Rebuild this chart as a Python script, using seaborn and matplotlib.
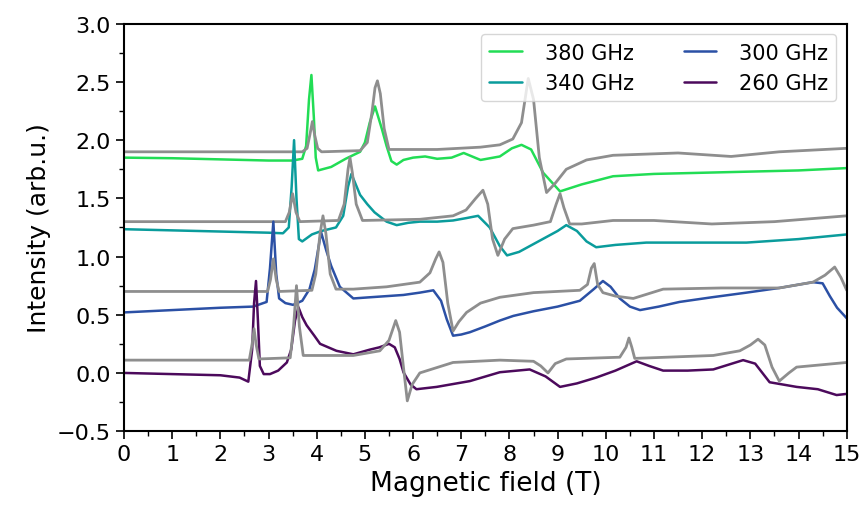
import matplotlib
matplotlib.use("Agg")
import matplotlib.pyplot as plt
import seaborn as sns
from matplotlib.ticker import MultipleLocator

# measured spectra (colored) and simulations (gray), offset per frequency
x_380 = [0, 1, 2, 3, 3.5, 3.7, 3.78, 3.84, 3.89, 3.94, 3.98, 4.03, 4.3, 4.6, 4.9, 5.0, 5.1, 5.21,
         5.35, 5.45, 5.55, 5.66, 5.8, 6.0, 6.25, 6.5, 6.8, 7.05, 7.4, 7.8, 8.05, 8.25, 8.45, 8.7,
         9.05, 9.5, 10.15, 11, 12, 13, 14, 15]
y_380 = [1.85, 1.845, 1.835, 1.825, 1.825, 1.84, 1.95, 2.35, 2.56, 2.2, 1.85, 1.74, 1.77, 1.84,
         1.90, 1.98, 2.15, 2.29, 2.1, 1.95, 1.82, 1.79, 1.83, 1.85, 1.86, 1.84, 1.85, 1.89, 1.83,
         1.86, 1.93, 1.96, 1.92, 1.72, 1.56, 1.62, 1.69, 1.71, 1.72, 1.73, 1.74, 1.76]
xs_380 = [0, 3.7, 3.8, 3.86, 3.91, 3.96, 4.02, 4.1, 4.9, 5.05, 5.15, 5.21, 5.26, 5.32, 5.4, 5.5,
          6.5, 7.4, 7.8, 8.07, 8.25, 8.39, 8.5, 8.62, 8.77, 8.95, 9.18, 9.6, 10.15, 11.5, 12.6,
          13.6, 15]
ys_380 = [1.90, 1.90, 1.93, 2.05, 2.16, 2.04, 1.93, 1.90, 1.91, 1.98, 2.25, 2.45, 2.51, 2.4, 2.1,
          1.92, 1.92, 1.94, 1.96, 2.01, 2.15, 2.53, 2.35, 1.85, 1.55, 1.63, 1.75, 1.83, 1.87,
          1.89, 1.86, 1.90, 1.93]

x_340 = [0, 1, 2, 3, 3.3, 3.42, 3.48, 3.53, 3.58, 3.63, 3.7, 3.9, 4.1, 4.4, 4.55, 4.65, 4.72, 4.8,
         4.9, 5.05, 5.2, 5.45, 5.66, 5.9, 6.14, 6.5, 6.83, 7.1, 7.35, 7.59, 7.8, 7.95, 8.2, 8.6,
         9.0, 9.18, 9.4, 9.6, 9.8, 10.2, 10.84, 12, 12.92, 14, 15]
y_340 = [1.235, 1.225, 1.215, 1.205, 1.20, 1.25, 1.6, 2.0, 1.5, 1.15, 1.13, 1.19, 1.22, 1.25, 1.35,
         1.6, 1.71, 1.63, 1.53, 1.45, 1.38, 1.30, 1.27, 1.29, 1.30, 1.30, 1.31, 1.33, 1.35, 1.25,
         1.09, 1.01, 1.04, 1.13, 1.22, 1.27, 1.22, 1.13, 1.08, 1.10, 1.12, 1.12, 1.12, 1.15, 1.19]
xs_340 = [0, 3.35, 3.43, 3.5, 3.57, 3.65, 4.45, 4.57, 4.65, 4.69, 4.74, 4.82, 4.95, 6.14, 6.83,
          7.1, 7.3, 7.45, 7.55, 7.65, 7.76, 7.9, 8.07, 8.5, 8.85, 8.97, 9.05, 9.13, 9.25, 9.5,
          10.15, 11, 12.2, 13.5, 15]
ys_340 = [1.30, 1.30, 1.38, 1.54, 1.38, 1.30, 1.31, 1.45, 1.75, 1.85, 1.72, 1.45, 1.31, 1.32,
          1.35, 1.40, 1.50, 1.57, 1.45, 1.15, 1.01, 1.15, 1.24, 1.27, 1.30, 1.45, 1.54, 1.42,
          1.28, 1.28, 1.31, 1.31, 1.28, 1.30, 1.35]

x_300 = [0, 1, 2, 2.68, 2.96, 3.03, 3.10, 3.16, 3.22, 3.35, 3.51, 3.7, 3.85, 3.96, 4.09, 4.2, 4.3,
         4.48, 4.76, 5.1, 5.45, 5.8, 6.14, 6.42, 6.58, 6.70, 6.83, 7.0, 7.18, 7.5, 7.8, 8.08, 8.5,
         9.0, 9.46, 9.75, 9.94, 10.1, 10.29, 10.5, 10.71, 11.1, 11.53, 12.2, 12.92, 13.6, 14.3,
         14.5, 14.65, 14.8, 15]
y_300 = [0.52, 0.54, 0.56, 0.57, 0.61, 0.9, 1.30, 0.85, 0.64, 0.60, 0.585, 0.62, 0.72, 0.89, 1.21,
         1.05, 0.92, 0.74, 0.64, 0.65, 0.66, 0.67, 0.69, 0.71, 0.62, 0.46, 0.32, 0.33, 0.35, 0.40,
         0.45, 0.49, 0.53, 0.57, 0.62, 0.72, 0.79, 0.74, 0.64, 0.57, 0.54, 0.57, 0.61, 0.65, 0.69,
         0.73, 0.78, 0.77, 0.66, 0.56, 0.47]
xs_300 = [0, 2.98, 3.04, 3.10, 3.16, 3.22, 3.9, 3.98, 4.07, 4.13, 4.19, 4.28, 4.4, 4.76, 5.45,
          6.14, 6.35, 6.47, 6.54, 6.62, 6.72, 6.83, 6.95, 7.11, 7.4, 7.8, 8.5, 9.46, 9.62, 9.7,
          9.76, 9.83, 9.94, 10.2, 10.57, 11.19, 12.4, 13.6, 14.3, 14.55, 14.75, 14.88, 15]
ys_300 = [0.70, 0.70, 0.80, 0.98, 0.80, 0.70, 0.71, 0.85, 1.2, 1.35, 1.2, 0.85, 0.72, 0.72, 0.74,
          0.78, 0.86, 0.98, 1.04, 0.95, 0.6, 0.36, 0.44, 0.52, 0.60, 0.65, 0.69, 0.71, 0.76, 0.90,
          0.94, 0.76, 0.69, 0.66, 0.64, 0.72, 0.73, 0.73, 0.78, 0.84, 0.91, 0.82, 0.71]

x_260 = [0, 1, 2, 2.4, 2.58, 2.66, 2.70, 2.74, 2.78, 2.82, 2.9, 3.03, 3.2, 3.38, 3.47, 3.55, 3.62,
         3.7, 3.79, 3.95, 4.07, 4.41, 4.76, 5.1, 5.3, 5.5, 5.62, 5.72, 5.80, 5.95, 6.07, 6.49,
         7.18, 7.8, 8.42, 8.75, 9.05, 9.4, 9.8, 10.2, 10.64, 10.9, 11.19, 11.7, 12.23, 12.85,
         13.1, 13.4, 13.96, 14.4, 14.79, 15]
y_260 = [0.0, -0.01, -0.02, -0.04, -0.075, 0.2, 0.6, 0.79, 0.45, 0.06, -0.01, -0.01, 0.02, 0.09,
         0.2, 0.45, 0.565, 0.48, 0.41, 0.32, 0.25, 0.19, 0.16, 0.2, 0.22, 0.25, 0.22, 0.12, 0.006,
         -0.1, -0.14, -0.12, -0.07, 0.006, 0.03, -0.03, -0.12, -0.09, -0.04, 0.02, 0.10, 0.06,
         0.02, 0.02, 0.03, 0.11, 0.08, -0.08, -0.12, -0.14, -0.19, -0.18]
xs_260 = [0, 2.6, 2.66, 2.70, 2.74, 2.8, 3.45, 3.52, 3.58, 3.64, 3.72, 4.76, 5.31, 5.5, 5.64, 5.72,
          5.80, 5.88, 5.98, 6.14, 6.83, 7.8, 8.5, 8.65, 8.80, 8.95, 9.18, 10.29, 10.42, 10.48,
          10.54, 10.6, 12.23, 12.78, 13.0, 13.16, 13.3, 13.45, 13.6, 13.8, 13.96, 15]
ys_260 = [0.11, 0.11, 0.25, 0.38, 0.25, 0.12, 0.13, 0.4, 0.75, 0.4, 0.15, 0.15, 0.19, 0.28, 0.45,
          0.35, 0.05, -0.24, -0.1, 0.0, 0.09, 0.11, 0.10, 0.06, 0.0, 0.08, 0.12, 0.135, 0.22, 0.30,
          0.22, 0.125, 0.15, 0.19, 0.24, 0.29, 0.24, 0.05, -0.07, 0.0, 0.05, 0.09]

labels = ["380 GHz", "340 GHz", "300 GHz", "260 GHz"]
colors = ["#22dd55", "#0a9c9c", "#2b50a5", "#4c0a5c"]
measured = [(x_380, y_380), (x_340, y_340), (x_300, y_300), (x_260, y_260)]
simulated = [(xs_380, ys_380), (xs_340, ys_340), (xs_300, ys_300), (xs_260, ys_260)]

sns.set_style("ticks")
plt.rcParams["font.family"] = ["DejaVu Sans"]
plt.rcParams["text.color"] = "black"
plt.rcParams["axes.labelcolor"] = "black"
plt.rcParams["xtick.color"] = "black"
plt.rcParams["ytick.color"] = "black"

fig, ax = plt.subplots(figsize=(8.64, 5.06), dpi=100)
fig.subplots_adjust(left=0.1435, right=0.980, top=0.951, bottom=0.146)

handles = []
for (x, y), (xs, ys), lab, col in zip(measured, simulated, labels, colors):
    sns.lineplot(x=x, y=y, sort=False, color=col, lw=1.8, ax=ax, label=lab)
    handles.append(ax.lines[-1])
    sns.lineplot(x=xs, y=ys, sort=False, color="#8e8e8e", lw=2.0, ax=ax)

ax.set_xlim(0, 15)
ax.set_ylim(-0.5, 3.0)
ax.xaxis.set_major_locator(MultipleLocator(1))
ax.xaxis.set_minor_locator(MultipleLocator(0.5))
ax.yaxis.set_major_locator(MultipleLocator(0.5))
ax.yaxis.set_minor_locator(MultipleLocator(0.25))
ax.tick_params(which="major", direction="out", length=6, width=1.2, labelsize=16)
ax.tick_params(which="minor", direction="out", length=3.5, width=1.0)
for s in ax.spines.values():
    s.set_visible(True)
    s.set_linewidth(1.5)
    s.set_color("black")

ax.set_xlabel("Magnetic field (T)", fontsize=19)
ax.set_ylabel("Intensity (arb.u.)", fontsize=18)

ax.legend(handles=handles, labels=labels, ncol=2, loc="upper right", fontsize=15,
          handlelength=1.55, handletextpad=1.1, columnspacing=2.4, frameon=True)

fig.savefig("out.png", dpi=100)
